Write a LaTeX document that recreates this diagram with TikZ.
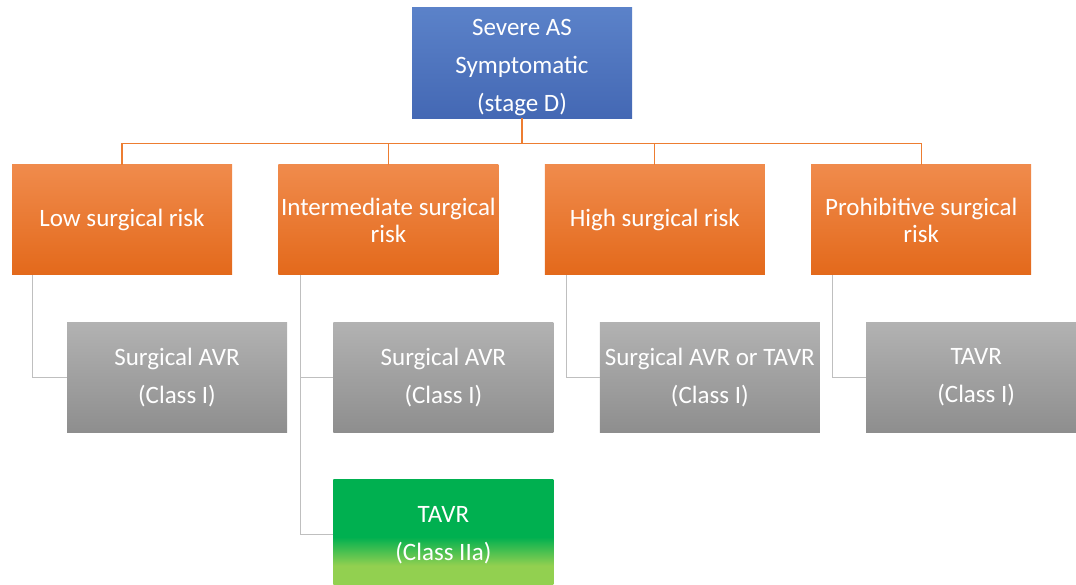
\documentclass[tikz,border=0pt]{standalone}
\usepackage{fontspec}
\setmainfont{Carlito}
\usepackage{xcolor}
\usepackage{tikz}
\usetikzlibrary{positioning}

\definecolor{bluetop}{HTML}{5B82C9}
\definecolor{bluebot}{HTML}{3A5DAB}
\definecolor{orgtop}{HTML}{F08B4C}
\definecolor{orgbot}{HTML}{E3691B}
\definecolor{graytop}{HTML}{B2B2B2}
\definecolor{graybot}{HTML}{8E8E8E}
\definecolor{dgreen}{HTML}{00B050}
\definecolor{lgreen}{HTML}{92D050}
\definecolor{orgline}{HTML}{ED7D31}
\definecolor{grayline}{HTML}{BFBFBF}

\pgfdeclareverticalshading{greenfade}{100bp}{color(0bp)=(lgreen); color(36bp)=(lgreen);
  color(49bp)=(dgreen); color(100bp)=(dgreen)}

\begin{document}
\begin{tikzpicture}[
  x=1pt, y=-1pt,
  base/.style={minimum width=220pt, minimum height=110pt, inner sep=2pt,
               align=center, text=white},
  topbox/.style={base, top color=bluetop, bottom color=bluetop!30!bluebot,
                 font=\fontsize{25}{38}\selectfont},
  risk/.style={base, top color=orgtop, bottom color=orgbot,
               font=\fontsize{25}{27}\selectfont},
  rec/.style={base, top color=graytop, bottom color=graybot,
              font=\fontsize{25}{38}\selectfont},
  recg/.style={base, shading=greenfade, font=\fontsize{25}{38}\selectfont},
  oline/.style={draw=orgline, line width=1.3pt},
  gline/.style={draw=grayline, line width=1pt},
]
\useasboundingbox (0,0) rectangle (1076,585);
\clip (0,0) rectangle (1076,585);

% Top
\node[topbox] (sevas) at (522,63) {\rule{0pt}{26pt}Severe AS\\Symptomatic\\(stage D)};

% Risk groups
\node[risk] (low) at (122,220) {Low surgical risk};
\node[risk, right=46pt of low] (inter) {Intermediate surgical\\risk};
\node[risk, right=46pt of inter] (high) {High surgical risk};
\node[risk, right=46pt of high] (prohib) {Prohibitive surgical\\risk};

% Recommendations
\node[rec, below right=47pt and 55pt of low.south west] (sagl) {Surgical AVR\\(Class I)};
\node[rec, below right=47pt and 55pt of inter.south west] (sagi) {Surgical AVR\\(Class I)};
\node[recg, below=47pt of sagi] (tavi) {TAVR\\(Class IIa)};
\node[rec, below right=47pt and 55pt of high.south west] (sagh) {Surgical AVR or TAVR\\(Class I)};
\node[rec, below right=47pt and 55pt of prohib.south west] (tavp) {TAVR\\(Class I)};

% Connectors
\draw[oline] (sevas.south) -- ++(0,25) coordinate (bar);
\foreach \n in {low,inter,high,prohib}
  \draw[oline] (bar) -| (\n.north);
\draw[gline] ([xshift=21pt]low.south west) |- (sagl.west);
\draw[gline] ([xshift=22pt]inter.south west) |- (sagi.west);
\draw[gline] ([xshift=22pt]inter.south west) |- (tavi.west);
\draw[gline] ([xshift=22pt]high.south west) |- (sagh.west);
\draw[gline] ([xshift=21pt]prohib.south west) |- (tavp.west);

\end{tikzpicture}
\end{document}
